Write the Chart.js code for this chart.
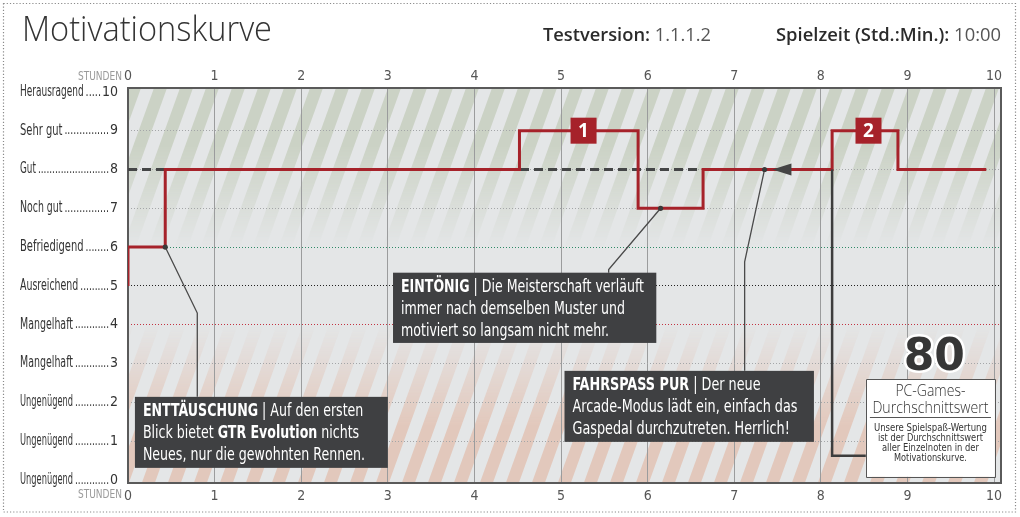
<!DOCTYPE html>
<html><head><meta charset="utf-8">
<script src="https://cdn.jsdelivr.net/npm/chart.js@4"></script>
<style>
html,body{margin:0;padding:0;background:#fff;}
#wrap{position:relative;width:1020px;height:517px;}
canvas{position:absolute;left:0;top:0;}
</style></head><body>
<div id="wrap"><canvas id="c" width="1020" height="517"></canvas></div>
<script>
// ---------- data ----------
const hourTicks = [0, 1, 2, 3, 4, 5, 6, 7, 8, 9, 10];
const gradeValues = [0, 1, 2, 3, 4, 5, 6, 7, 8, 9, 10];
const gradeNames = ['Ungenügend', 'Ungenügend', 'Ungenügend', 'Mangelhaft', 'Mangelhaft', 'Ausreichend', 'Befriedigend', 'Noch gut', 'Gut', 'Sehr gut', 'Herausragend'];
const curveHours = [0, 0, 0.43, 4.52, 5.89, 6.64, 8.13, 8.89, 9.91];
const curveGrades = [5, 6, 8, 9, 7, 8, 9, 8, 8];
const averageGrade = 8;
const averageHours = [0, 8.13];
const markerLabels = ['1', '2'];
const markerHours = [5.26, 8.55];
const markerGrades = [9, 9];
const titleText = 'Motivationskurve';
const versionLabel = 'Testversion:';
const versionValue = '1.1.1.2';
const playtimeLabel = 'Spielzeit (Std.:Min.):';
const playtimeValue = '10:00';
const axisUnit = 'STUNDEN';
const callout1 = [[['ENTTÄUSCHUNG', true], [' | Auf den ersten', false]], [['Blick bietet ', false], ['GTR Evolution', true], [' nichts', false]], [['Neues, nur die gewohnten Rennen.', false]]];
const callout2 = [[['EINTÖNIG', true], [' | Die Meisterschaft verläuft', false]], [['immer nach demselben Muster und', false]], [['motiviert so langsam nicht mehr.', false]]];
const callout3 = [[['FAHRSPASS PUR', true], [' | Der neue', false]], [['Arcade-Modus lädt ein, einfach das', false]], [['Gaspedal durchzutreten. Herrlich!', false]]];
const scoreTitle = ['PC-Games-', 'Durchschnittswert'];
const scoreNote = ['Unsere Spielspaß-Wertung', 'ist der Durchschnittswert', 'aller Einzelnoten in der', 'Motivationskurve.'];

// ---------- styling ----------
const FONT_C = '"Liberation Sans Narrow", "DejaVu Sans Condensed", "Roboto Condensed", "Liberation Sans", sans-serif';
const FONT_H = '"Open Sans", "Noto Sans", "DejaVu Sans", sans-serif';
const RED = '#a6222a';
const DARK = '#3f4042';

function gridColor(v) {
  if (v === 0 || v === 10) return 'rgba(0,0,0,0)';
  if (v === 6) return '#2f8a66';
  if (v === 5) return '#222222';
  if (v === 4) return '#c23342';
  return '#a4a6a8';
}

// draw runs of text scaled horizontally to a target width
function drawRuns(ctx, runs, x, y, size, family, targetW, align, color, weightBold, weightReg) {
  ctx.save();
  ctx.textBaseline = 'middle';
  ctx.textAlign = 'left';
  let W = 0;
  const widths = runs.map(r => {
    ctx.font = (r[1] ? (weightBold || 'bold') : (weightReg || 'normal')) + ' ' + size + 'px ' + family;
    const w = ctx.measureText(r[0]).width; W += w; return w;
  });
  const sx = targetW ? targetW / W : 1;
  const total = W * sx;
  let x0 = align === 'center' ? x - total / 2 : (align === 'right' ? x - total : x);
  ctx.translate(x0, y);
  ctx.scale(sx, 1);
  let cx = 0;
  runs.forEach((r, i) => {
    ctx.font = (r[1] ? (weightBold || 'bold') : (weightReg || 'normal')) + ' ' + size + 'px ' + family;
    ctx.fillStyle = Array.isArray(color) ? color[i] : color;
    ctx.fillText(r[0], cx, 0);
    cx += widths[i];
  });
  ctx.restore();
  return total;
}

const bgPlugin = {
  id: 'bg',
  beforeDraw(chart) {
    const {ctx, chartArea: a, scales: {y}} = chart;
    ctx.save();
    ctx.fillStyle = '#e4e6e7';
    ctx.fillRect(a.left, a.top, a.width, a.height);
    function stripes(color, fullVal, zeroVal) {
      const oc = document.createElement('canvas');
      oc.width = Math.ceil(a.width); oc.height = Math.ceil(a.height);
      const o = oc.getContext('2d');
      o.fillStyle = color;
      const period = 26, sw = 13, slant = 0.36, H = oc.height;
      for (let x = -H * slant - period; x < oc.width + period; x += period) {
        o.beginPath();
        o.moveTo(x, H); o.lineTo(x + sw, H);
        o.lineTo(x + sw + H * slant, 0); o.lineTo(x + H * slant, 0);
        o.closePath(); o.fill();
      }
      o.globalCompositeOperation = 'destination-in';
      const g = o.createLinearGradient(0, y.getPixelForValue(fullVal) - a.top, 0, y.getPixelForValue(zeroVal) - a.top);
      g.addColorStop(0, 'rgba(0,0,0,1)');
      g.addColorStop(1, 'rgba(0,0,0,0)');
      o.fillStyle = g;
      o.fillRect(0, 0, oc.width, oc.height);
      ctx.drawImage(oc, a.left, a.top);
    }
    stripes('#cbd2c5', 8.6, 6.0);
    stripes('#e2c8bc', 1.4, 4.0);
    ctx.restore();
  },
  beforeDatasetsDraw(chart) {
    const {ctx, chartArea: a} = chart;
    ctx.save();
    ctx.strokeStyle = '#5a5a5a'; ctx.lineWidth = 2;
    ctx.strokeRect(a.left, a.top, a.right - a.left, a.bottom - a.top);
    ctx.restore();
  }
};

const annoPlugin = {
  id: 'anno',
  afterDatasetsDraw(chart) {
    const {ctx, chartArea: a, scales: {x, y}} = chart;
    const X = v => x.getPixelForValue(v), Y = v => y.getPixelForValue(v);
    ctx.save();
    // score connector + arrow
    ctx.strokeStyle = '#3d3d3d'; ctx.lineWidth = 2.5;
    ctx.beginPath();
    ctx.moveTo(X(8.13), Y(averageGrade)); ctx.lineTo(X(8.13), Y(0.62)); ctx.lineTo(X(8.52), Y(0.62));
    ctx.stroke();
    ctx.fillStyle = '#444';
    ctx.beginPath();
    ctx.moveTo(X(7.44), Y(averageGrade)); ctx.lineTo(X(7.66), Y(averageGrade) - 6); ctx.lineTo(X(7.66), Y(averageGrade) + 6);
    ctx.closePath(); ctx.fill();

    // callout lines
    ctx.strokeStyle = '#4a4a4a'; ctx.lineWidth = 1.3;
    const paths = [
      [[0.43, 6], [0.8, 4.3], [0.8, 2.14]],
      [[6.15, 7], [5.55, 5.42], [5.55, 5.34]],
      [[7.35, 8], [7.12, 5.62], [7.12, 2.81]]
    ];
    paths.forEach(p => {
      ctx.beginPath();
      p.forEach((pt, i) => i ? ctx.lineTo(X(pt[0]), Y(pt[1])) : ctx.moveTo(X(pt[0]), Y(pt[1])));
      ctx.stroke();
      ctx.fillStyle = '#3a3a3a';
      ctx.beginPath(); ctx.arc(X(p[0][0]), Y(p[0][1]), 2.6, 0, Math.PI * 2); ctx.fill();
    });

    // callout boxes
    function box(x0, x1, y0, y1, lines, targetW) {
      const l = X(x0), r = X(x1), t = Y(y0), b = Y(y1);
      ctx.fillStyle = DARK;
      ctx.fillRect(l, t, r - l, b - t);
      const size = 17;
      const lineW = runs => {
        let W = 0;
        runs.forEach(rn => { ctx.font = (rn[1] ? 'bold ' : 'normal ') + size + 'px ' + FONT_C; W += ctx.measureText(rn[0]).width; });
        return W;
      };
      let maxW = 0;
      lines.forEach(runs => { maxW = Math.max(maxW, lineW(runs)); });
      const sx = targetW / maxW;
      lines.forEach((runs, i) => {
        drawRuns(ctx, runs, l + 8, t + 15 + i * 22, size, FONT_C, lineW(runs) * sx, 'left', '#ffffff');
      });
    }
    box(0.08, 3.0, 2.14, 0.31, callout1, 222);
    box(3.06, 6.10, 5.34, 3.53, callout2, 243);
    box(5.04, 7.92, 2.81, 0.98, callout3, 225);

    // markers
    markerLabels.forEach((lab, i) => {
      const cx = X(markerHours[i]), cy = Y(markerGrades[i]);
      ctx.fillStyle = RED;
      ctx.fillRect(cx - 13, cy - 13, 26, 26);
      ctx.fillStyle = '#fff';
      ctx.font = 'bold 19px ' + FONT_H;
      ctx.textAlign = 'center'; ctx.textBaseline = 'middle';
      ctx.fillText(lab, cx, cy + 1);
    });

    // score
    const score = String(Math.round(averageGrade * 10));
    ctx.font = 'bold 44px "DejaVu Sans", sans-serif';
    ctx.textAlign = 'center'; ctx.textBaseline = 'alphabetic';
    const sc = X(9.31);
    ctx.lineWidth = 5; ctx.strokeStyle = '#ffffff'; ctx.lineJoin = 'round';
    ctx.strokeText(score, sc, 370);
    ctx.fillStyle = '#363636';
    ctx.fillText(score, sc, 370);

    const bl = X(8.52), br = X(10.01), bt = Y(2.6), bb = Y(0.08);
    ctx.fillStyle = '#ffffff'; ctx.fillRect(bl, bt, br - bl, bb - bt);
    ctx.strokeStyle = '#555'; ctx.lineWidth = 1;
    ctx.strokeRect(Math.round(bl) + 0.5, Math.round(bt) + 0.5, Math.round(br - bl), Math.round(bb - bt));
    const mid = (bl + br) / 2;
    drawRuns(ctx, [[scoreTitle[0], false]], mid, bt + 12, 17, FONT_H, 70, 'center', '#333', 'bold', '300');
    drawRuns(ctx, [[scoreTitle[1], false]], mid, bt + 29, 17, FONT_H, 116, 'center', '#333', 'bold', '300');
    ctx.beginPath(); ctx.moveTo(bl + 4, Math.round(bt + 38) + 0.5); ctx.lineTo(br - 4, Math.round(bt + 38) + 0.5); ctx.stroke();
    const noteW = [113, 105, 97, 73];
    scoreNote.forEach((t, i) => drawRuns(ctx, [[t, false]], mid, bt + 49 + i * 10, 11, FONT_C, noteW[i], 'center', '#333'));
    ctx.restore();
  },
  afterDraw(chart) {
    const {ctx, chartArea: a, scales: {y}} = chart;
    ctx.save();
    // outer dotted border
    ctx.strokeStyle = '#8a8a8a'; ctx.lineWidth = 1.2; ctx.setLineDash([1.2, 2]);
    ctx.strokeRect(3.5, 3.5, 1012, 508.5);
    ctx.setLineDash([]);
    // y labels with dot leaders
    gradeValues.forEach((v, i) => {
      const py = y.getPixelForValue(v);
      const nameW = drawRuns(ctx, [[gradeNames[i], false]], 20, py, 15, FONT_C, gradeNames[i].length * 5.3, 'left', '#333');
      ctx.font = '14px ' + FONT_C;
      const numW = ctx.measureText(String(v)).width;
      const start = 20 + nameW + 2, end = a.left - 10 - numW - 1;
      if (end > start) {
        const n = Math.max(1, Math.floor((end - start) / 2.8));
        drawRuns(ctx, [['.'.repeat(n), false]], start, py, 14, FONT_C, end - start, 'left', '#333');
      }
    });
    // axis unit labels
    drawRuns(ctx, [[axisUnit, false]], 122, a.top - 11, 12, FONT_C, 44, 'right', '#9a9a9a');
    drawRuns(ctx, [[axisUnit, false]], 122, a.bottom + 12, 12, FONT_C, 44, 'right', '#9a9a9a');
    // title + header
    drawRuns(ctx, [[titleText, false]], 22, 31, 34, FONT_H, 250, 'left', '#333', 'bold', '300');
    drawRuns(ctx, [[versionLabel, true], [' ' + versionValue, false]], 543, 36, 18, FONT_H, 168, 'left', ['#2b2b2b', '#555'], '600', '400');
    drawRuns(ctx, [[playtimeLabel, true], [' ' + playtimeValue, false]], 776, 36, 18, FONT_H, 225, 'left', ['#2b2b2b', '#555'], '600', '400');
    ctx.restore();
  }
};

const tickFont = {family: FONT_C, size: 14};
new Chart(document.getElementById('c'), {
  type: 'line',
  data: {
    datasets: [
      {label: 'Motivation', data: curveHours.map((h, i) => ({x: h, y: curveGrades[i]})),
       borderColor: RED, borderWidth: 3, stepped: true, pointRadius: 0, fill: false, order: 0, xAxisID: 'x', yAxisID: 'y'},
      {label: 'Durchschnitt', data: averageHours.map(h => ({x: h, y: averageGrade})),
       borderColor: '#444546', borderWidth: 3, borderDash: [9, 5], pointRadius: 0, fill: false, order: 1, xAxisID: 'x', yAxisID: 'y'}
    ]
  },
  options: {
    responsive: false, animation: false, devicePixelRatio: 1,
    layout: {padding: {left: 0, right: 19, top: 62, bottom: 0}},
    plugins: {legend: {display: false}, tooltip: {enabled: false}},
    scales: {
      x: {type: 'linear', position: 'bottom', min: 0, max: 10.08,
          afterBuildTicks: s => { s.ticks = hourTicks.map(v => ({value: v})); },
          afterFit: s => { s.height = 34; },
          grid: {color: '#9b9c9d', lineWidth: 1, drawTicks: false},
          border: {display: false},
          ticks: {padding: 5, color: '#555', font: tickFont, maxRotation: 0, autoSkip: false, callback: v => String(v)}},
      x2: {type: 'linear', position: 'top', min: 0, max: 10.08,
           afterBuildTicks: s => { s.ticks = hourTicks.map(v => ({value: v})); },
           afterFit: s => { s.height = 26; },
           grid: {display: false, drawTicks: false},
           border: {display: false},
           ticks: {padding: 3, color: '#555', font: tickFont, maxRotation: 0, autoSkip: false, callback: v => String(v)}},
      y: {type: 'linear', position: 'left', min: -0.08, max: 10.1,
          afterBuildTicks: s => { s.ticks = gradeValues.map(v => ({value: v})); },
          afterFit: s => { s.width = 128; },
          grid: {drawTicks: false, lineWidth: 1, color: c => gridColor(c.tick ? c.tick.value : -1)},
          border: {display: false, dash: [1, 2]},
          ticks: {padding: 10, color: '#333', font: tickFont, autoSkip: false, callback: v => String(v)}}
    }
  },
  plugins: [bgPlugin, annoPlugin]
});
</script>
</body></html>
